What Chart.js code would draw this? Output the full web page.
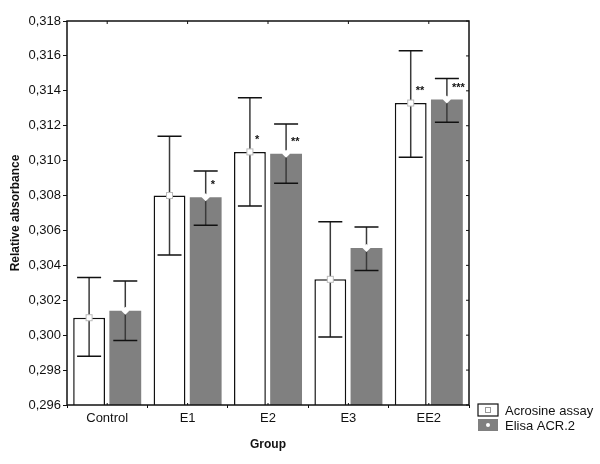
<!DOCTYPE html>
<html>
<head>
<meta charset="utf-8">
<script src="https://cdn.jsdelivr.net/npm/chart.js@4/dist/chart.umd.min.js"></script>
<style>
  html, body { margin: 0; padding: 0; background: #fff; }
  #wrap { width: 600px; height: 464px; }
</style>
</head>
<body>
<div id="wrap"><canvas id="chart" width="600" height="464"></canvas></div>
<script>
/* DATA */
const groups = ["Control", "E1", "E2", "E3", "EE2"];

const acrosine = [0.3010, 0.3080, 0.3105, 0.3032, 0.3133];
const acrosineLow = [0.2988, 0.3046, 0.3074, 0.2999, 0.3102];
const acrosineHigh = [0.3033, 0.3114, 0.3136, 0.3065, 0.3163];
const acrosineStars = ["", "", "*", "", "**"];

const elisa = [0.3014, 0.3079, 0.3104, 0.3050, 0.3135];
const elisaLow = [0.2997, 0.3063, 0.3087, 0.3037, 0.3122];
const elisaHigh = [0.3031, 0.3094, 0.3121, 0.3062, 0.3147];
const elisaStars = ["", "*", "**", "", "***"];

const yTicks = [0.296, 0.298, 0.300, 0.302, 0.304, 0.306, 0.308, 0.310, 0.312, 0.314, 0.316, 0.318];

const FONT = "'Liberation Sans', Arial, sans-serif";
const GRAY = "#808080";

const extras = [
  { low: acrosineLow, high: acrosineHigh, stars: acrosineStars, marker: "square" },
  { low: elisaLow, high: elisaHigh, stars: elisaStars, marker: "diamond" }
];

/* ERROR BARS, MARKERS, FRAME, LEGEND */
const decorations = {
  id: "decorations",
  afterDatasetsDraw(chart) {
    const c = chart.ctx;
    const y = chart.scales.y;
    const x = chart.scales.x;
    const a = chart.chartArea;

    chart.data.datasets.forEach((ds, i) => {
      const meta = chart.getDatasetMeta(i);
      const ex = extras[i];
      meta.data.forEach((bar, j) => {
        const cx = bar.x;
        const yl = y.getPixelForValue(ex.low[j]);
        const yh = y.getPixelForValue(ex.high[j]);
        const yv = y.getPixelForValue(ds.data[j]);

        // whisker
        c.save();
        c.strokeStyle = "#3a3a3a";
        c.lineWidth = 1.5;
        c.beginPath();
        c.moveTo(cx, yh);
        c.lineTo(cx, yl);
        c.stroke();
        c.strokeStyle = "#111";
        c.beginPath();
        c.moveTo(cx - 12, yh);
        c.lineTo(cx + 12, yh);
        c.moveTo(cx - 12, yl);
        c.lineTo(cx + 12, yl);
        c.stroke();

        // mean marker
        c.fillStyle = "#fff";
        c.strokeStyle = "#bbb";
        c.lineWidth = 1;
        if (ex.marker === "square") {
          c.fillRect(cx - 3, yv - 3, 6, 6);
          c.strokeRect(cx - 3, yv - 3, 6, 6);
        } else {
          c.beginPath();
          c.moveTo(cx, yv - 4);
          c.lineTo(cx + 4, yv);
          c.lineTo(cx, yv + 4);
          c.lineTo(cx - 4, yv);
          c.closePath();
          c.fill();
        }

        // significance stars
        if (ex.stars[j]) {
          c.fillStyle = "#111";
          c.font = "bold 11px " + FONT;
          c.textAlign = "left";
          c.textBaseline = "middle";
          c.fillText(ex.stars[j], cx + 5, yv - 12);
        }
        c.restore();
      });
    });

    // frame with inward ticks on top and right
    c.save();
    c.strokeStyle = "#111";
    c.lineWidth = 1.5;
    c.strokeRect(a.left, a.top, a.right - a.left, a.bottom - a.top);
    c.lineWidth = 1;
    c.beginPath();
    groups.forEach((g, j) => {
      const px = x.getPixelForValue(j);
      c.moveTo(px, a.top);
      c.lineTo(px, a.top + 3);
      c.moveTo(px, a.bottom);
      c.lineTo(px, a.bottom - 2);
    });
    yTicks.forEach(v => {
      const py = y.getPixelForValue(v);
      c.moveTo(a.right, py);
      c.lineTo(a.right - 3, py);
    });
    c.stroke();
    c.restore();

    // legend, bottom right
    c.save();
    const lx = 478, ly = 404;
    chart.data.datasets.forEach((ds, i) => {
      const top = ly + i * 15;
      c.fillStyle = ds.backgroundColor;
      c.fillRect(lx, top, 20, 12);
      if (i === 0) {
        c.strokeStyle = "#111";
        c.lineWidth = 1.2;
        c.strokeRect(lx, top, 20, 12);
        c.strokeStyle = "#999";
        c.lineWidth = 1;
        c.strokeRect(lx + 7.5, top + 3.5, 5, 5);
      } else {
        c.fillStyle = "#fff";
        c.beginPath();
        c.arc(lx + 10, top + 6, 2, 0, Math.PI * 2);
        c.fill();
      }
      c.fillStyle = "#111";
      c.font = "13px " + FONT;
      c.textAlign = "left";
      c.textBaseline = "middle";
      c.fillText(ds.label, lx + 27, top + 7);
    });
    c.restore();
  }
};

/* CHART */
new Chart(document.getElementById("chart"), {
  type: "bar",
  data: {
    labels: groups,
    datasets: [
      {
        label: "Acrosine assay",
        data: acrosine,
        backgroundColor: "#ffffff",
        borderColor: "#111",
        borderWidth: 1.5,
        categoryPercentage: 0.9,
        barPercentage: 0.88
      },
      {
        label: "Elisa ACR.2",
        data: elisa,
        backgroundColor: GRAY,
        borderWidth: 0,
        categoryPercentage: 0.9,
        barPercentage: 0.88
      }
    ]
  },
  options: {
    responsive: false,
    animation: false,
    events: [],
    layout: { padding: { left: 0, top: 21, right: 131, bottom: 0 } },
    plugins: {
      legend: { display: false },
      tooltip: { enabled: false }
    },
    scales: {
      x: {
        grid: { display: true, drawOnChartArea: false, tickLength: 3, color: "#111" },
        border: { display: false },
        ticks: { color: "#111", font: { family: FONT, size: 13 }, padding: 3 },
        title: {
          display: true,
          text: "Group",
          color: "#111",
          font: { family: FONT, size: 12, weight: "bold" },
          padding: { top: 4, bottom: 12 }
        },
        afterFit(scale) { scale.height = 59; }
      },
      y: {
        min: 0.296,
        max: 0.318,
        afterBuildTicks(scale) { scale.ticks = yTicks.map(v => ({ value: v })); },
        grid: { display: true, drawOnChartArea: false, tickLength: 4, color: "#111" },
        border: { display: false },
        ticks: {
          color: "#111",
          font: { family: FONT, size: 13 },
          padding: 2,
          callback: v => v.toFixed(3).replace(".", ",")
        },
        title: {
          display: true,
          text: "Relative absorbance",
          color: "#111",
          font: { family: FONT, size: 12, weight: "bold" },
          padding: { top: 8, bottom: 4 }
        },
        afterFit(scale) { scale.width = 67; }
      }
    }
  },
  plugins: [decorations]
});
</script>
</body>
</html>
